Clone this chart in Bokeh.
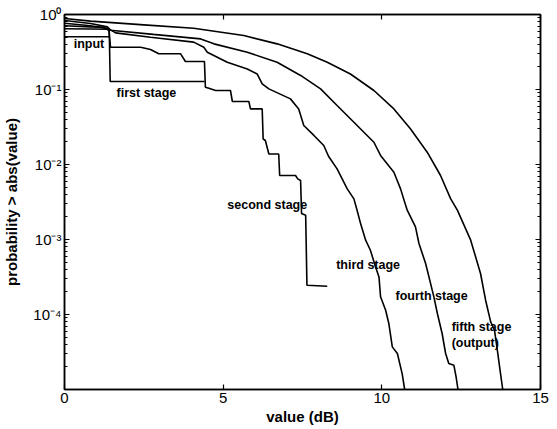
from bokeh.plotting import figure
from bokeh.models import Range1d, FixedTicker, LinearAxis, LogAxis, CustomJSTickFormatter, ColumnDataSource
from bokeh.core.properties import value
from bokeh.embed import file_html
from bokeh.resources import INLINE

# ---- data (value in dB, probability > abs(value)) ----
input_x = [0, 1.42]
input_p = [0.505, 0.505]

first_x = [0, 0.82, 1.41, 1.44, 4.41]
first_p = [0.645, 0.64, 0.635, 0.128, 0.128]

second_x = [0, 0.82, 1.24, 1.40, 1.45, 2.40, 2.71, 2.97, 3.66, 3.81, 4.41, 4.44, 4.55,
            4.76, 5.23, 5.29, 5.81, 5.86, 6.23, 6.26, 6.33, 6.44, 6.75, 6.78, 7.28,
            7.35, 7.44, 7.47, 7.60, 7.64, 8.28]
second_p = [0.708, 0.684, 0.678, 0.612, 0.366, 0.366, 0.341, 0.299, 0.299, 0.236, 0.236,
            0.107, 0.104, 0.0970, 0.0970, 0.0692, 0.0692, 0.0551, 0.0551, 0.0219, 0.0209,
            0.0138, 0.0138, 0.00713, 0.00713, 0.00643, 0.00612, 0.00222, 0.00211,
            0.000246, 0.000238]

third_x = [0, 0.82, 1.40, 1.61, 2.71, 4.07, 4.39, 4.50, 5.13, 5.76, 6.07, 6.23, 6.44, 7.12,
           7.38, 7.54, 7.86, 8.17, 8.32, 8.59, 8.91, 9.12, 9.22, 9.33, 9.49, 9.64, 9.80,
           9.91, 9.96, 10.12, 10.22, 10.33, 10.49, 10.64, 10.72]
third_p = [0.766, 0.708, 0.643, 0.569, 0.498, 0.428, 0.366, 0.314, 0.231, 0.188, 0.161,
           0.119, 0.102, 0.0750, 0.0551, 0.0331, 0.0244, 0.0179, 0.0129, 0.00873, 0.00473,
           0.00348, 0.00246, 0.00163, 0.00098, 0.000719, 0.000432, 0.000317, 0.000172,
           0.000114, 7.59e-5, 3.70e-5, 3.02e-5, 1.63e-5, 1.0e-5]

fourth_x = [0, 0.82, 1.35, 1.45, 2.80, 4.29, 4.71, 5.76, 6.70, 7.44, 8.07, 8.59, 9.12, 9.75,
            9.96, 10.38, 10.59, 10.80, 11.06, 11.17, 11.38, 11.64, 11.75, 11.90, 12.01,
            12.11, 12.27, 12.34, 12.40]
fourth_p = [0.832, 0.759, 0.684, 0.618, 0.543, 0.473, 0.406, 0.314, 0.231, 0.154, 0.102,
            0.0612, 0.0366, 0.0198, 0.0132, 0.00789, 0.00473, 0.00246, 0.00147, 0.000885,
            0.000479, 0.000172, 0.000103, 5.58e-5, 3.02e-5, 2.22e-5, 2.11e-5, 1.47e-5, 1.0e-5]

fifth_x = [0, 0.82, 2.50, 4.07, 5.65, 6.70, 7.65, 8.28, 9.01, 9.75, 10.38, 10.90, 11.43,
           11.85, 12.17, 12.38, 12.80, 13.11, 13.27, 13.43, 13.55, 13.64, 13.74, 13.81]
fifth_p = [0.885, 0.815, 0.728, 0.656, 0.525, 0.406, 0.299, 0.231, 0.161, 0.0970, 0.0551,
           0.0299, 0.0146, 0.00713, 0.00348, 0.00246, 0.00098, 0.000352, 0.000155, 7.96e-5,
           6.18e-5, 3.34e-5, 1.63e-5, 1.0e-5]

label_text = ["input", "first stage", "second stage", "third stage", "fourth stage",
              "fifth stage", "(output)"]
label_x = [0.29, 1.64, 5.13, 8.56, 10.43, 12.20, 12.20]
label_p = [0.402, 0.089, 2.87e-3, 4.54e-4, 1.75e-4, 6.84e-5, 4.23e-5]

x_ticks = [0, 5, 10, 15]
y_ticks = [1e-4, 1e-3, 1e-2, 1e-1, 1]
y_minor = [m * 10.0 ** k for k in range(-5, 0) for m in range(2, 10)]

FONT = "Liberation Sans"

p = figure(width=557, height=429, x_range=Range1d(0, 15), y_range=Range1d(1e-5, 1),
           y_axis_type="log", output_backend="svg", toolbar_location=None,
           min_border_left=64, min_border_right=17, min_border_top=14, min_border_bottom=40,
           background_fill_color="white", border_fill_color="white")
p.grid.visible = False
p.outline_line_color = "black"
p.outline_line_width = 1.5

sup = CustomJSTickFormatter(code="""
const e = Math.round(Math.log10(tick));
const m = {"-":"\u207b","0":"\u2070","1":"\u00b9","2":"\u00b2","3":"\u00b3","4":"\u2074","5":"\u2075"};
return "10" + String(e).split("").map(c => m[c]).join("");
""")
blank = CustomJSTickFormatter(code="return '';")

def style(ax, labels=True):
    ax.axis_line_color = "black"
    ax.axis_line_width = 1.5
    ax.major_tick_line_color = "black"
    ax.minor_tick_line_color = "black"
    ax.major_tick_line_width = 1.2
    ax.minor_tick_line_width = 1
    ax.major_tick_in = 5
    ax.major_tick_out = 0
    ax.minor_tick_in = 3
    ax.minor_tick_out = 0
    ax.major_label_text_font = FONT
    ax.major_label_text_color = "#000000"
    ax.axis_label_text_color = "#000000"
    if labels:
        ax.major_label_text_font_size = "15px"
        ax.major_label_standoff = 3
    else:
        ax.major_label_text_font_size = "0px"
        ax.major_label_standoff = 0

xt = FixedTicker(ticks=x_ticks, minor_ticks=[])
yt = FixedTicker(ticks=y_ticks, minor_ticks=y_minor)

xa = p.xaxis[0]
xa.ticker = xt
style(xa)
xa.axis_label = "value (dB)"
xa.axis_label_text_font = FONT
xa.axis_label_text_font_style = "bold"
xa.axis_label_text_font_size = "15px"
xa.axis_label_standoff = 2

ya = p.yaxis[0]
ya.ticker = yt
ya.formatter = sup
style(ya)
ya.axis_label = "probability > abs(value)"
ya.axis_label_text_font = FONT
ya.axis_label_text_font_style = "bold"
ya.axis_label_text_font_size = "15px"
ya.axis_label_standoff = 10

top = LinearAxis(ticker=xt, formatter=blank)
style(top, labels=False)
p.add_layout(top, "above")
right = LogAxis(ticker=yt, formatter=blank)
style(right, labels=False)
p.add_layout(right, "right")

for xs, ps in [(input_x, input_p), (first_x, first_p), (second_x, second_p),
               (third_x, third_p), (fourth_x, fourth_p), (fifth_x, fifth_p)]:
    p.line(xs, ps, line_color="black", line_width=1.6)

src = ColumnDataSource(dict(x=label_x, y=label_p, text=label_text))
p.text(x="x", y="y", text="text", source=src, text_font=value(FONT),
       text_font_style="bold", text_font_size="12.5px", text_align="left",
       text_baseline="middle", text_color="black")

open("out.html", "w").write(file_html(p, INLINE))
